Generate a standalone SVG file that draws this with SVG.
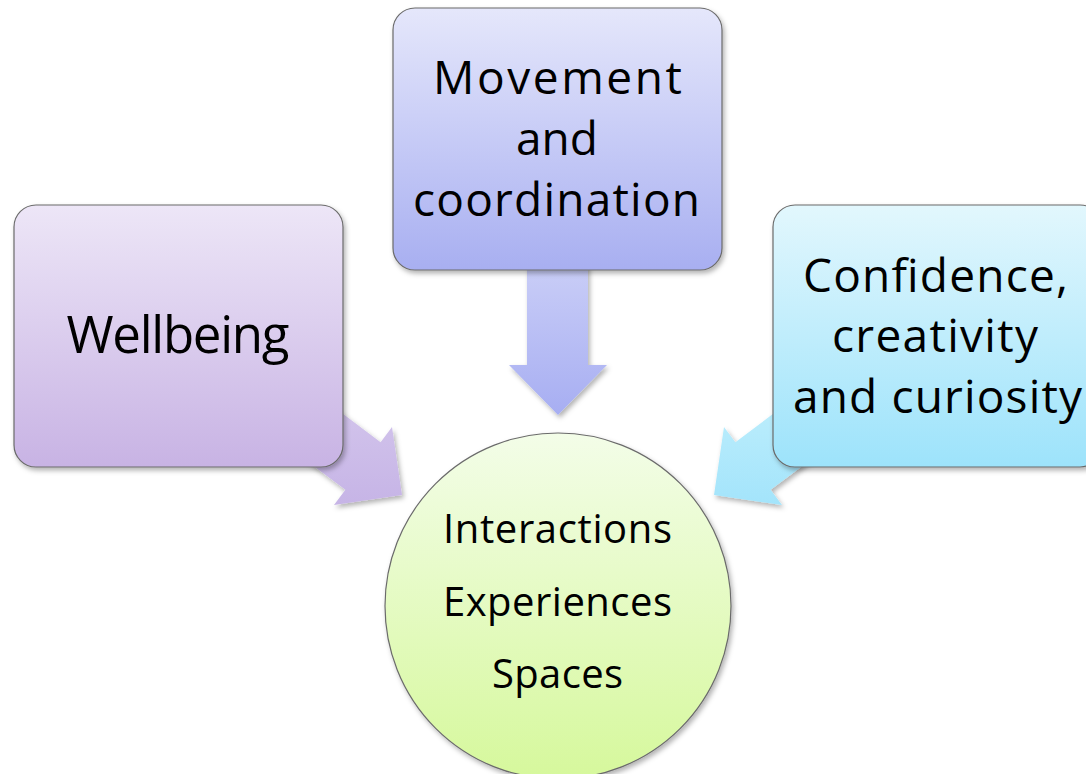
<svg xmlns="http://www.w3.org/2000/svg" width="1086" height="774" viewBox="0 0 1086 774">
<defs>
<linearGradient id="gTop" x1="0" y1="0" x2="0" y2="1"><stop offset="0" stop-color="#e5e7fb"/><stop offset="1" stop-color="#a8aff1"/></linearGradient>
<linearGradient id="gLeft" x1="0" y1="0" x2="0" y2="1"><stop offset="0" stop-color="#ede6f7"/><stop offset="1" stop-color="#c8b3e4"/></linearGradient>
<linearGradient id="gRight" x1="0" y1="0" x2="0" y2="1"><stop offset="0" stop-color="#e2f7fd"/><stop offset="1" stop-color="#9de3fb"/></linearGradient>
<linearGradient id="gCircle" x1="0" y1="0" x2="0" y2="1"><stop offset="0" stop-color="#f3fde8"/><stop offset="1" stop-color="#d6f89c"/></linearGradient>
<linearGradient id="gArrTop" x1="0" y1="0" x2="0" y2="1"><stop offset="0" stop-color="#cacef7"/><stop offset="1" stop-color="#a7aef2"/></linearGradient>
<linearGradient id="gArrLeft" gradientUnits="userSpaceOnUse" x1="0" y1="400" x2="0" y2="506"><stop offset="0" stop-color="#d3c5ec"/><stop offset="1" stop-color="#c6b4e6"/></linearGradient>
<linearGradient id="gArrRight" gradientUnits="userSpaceOnUse" x1="0" y1="420" x2="0" y2="506"><stop offset="0" stop-color="#b8ecfc"/><stop offset="1" stop-color="#a3e4fb"/></linearGradient>
<filter id="sh" x="-10%" y="-10%" width="125%" height="125%"><feDropShadow dx="2" dy="3" stdDeviation="2.5" flood-color="#000" flood-opacity="0.3"/></filter>
</defs>
<style>
.box{stroke:#6b6b6b;stroke-width:1.2;filter:url(#sh)}
.arr{filter:url(#sh)}
.t{font-family:"Open Sans","Liberation Sans",sans-serif;fill:#000;text-anchor:middle}
</style>
<rect width="1086" height="774" fill="#fff"/>
<g id="connectors">
<polygon class="arr" fill="url(#gArrTop)" points="527,262 588,262 588,365 607,365 558,415 509,365 527,365"/>
<polygon class="arr" fill="url(#gArrLeft)" points="261,352 380.6,442.3 392,427 402,495 334,505 345.4,489.7 225,400"/>
<polygon class="arr" fill="url(#gArrRight)" points="855,352 735.4,442.3 724,427 714,495 782,505 770.6,489.7 891,400"/>
</g>
<g id="node-wellbeing">
<rect class="box" x="14" y="205" width="329" height="262" rx="22" fill="url(#gLeft)"/>
<text class="t" x="178" y="353" font-size="51" textLength="223">Wellbeing</text>
</g>
<g id="node-movement">
<rect class="box" x="393" y="8" width="329" height="262" rx="22" fill="url(#gTop)"/>
<text class="t" x="557.5" y="94" font-size="46" textLength="249">Movement</text>
<text class="t" x="557" y="155" font-size="46" textLength="82">and</text>
<text class="t" x="556.5" y="216" font-size="46" textLength="287">coordination</text>
</g>
<g id="node-confidence">
<rect class="box" x="773" y="205" width="329" height="262" rx="22" fill="url(#gRight)"/>
<text class="t" x="935.5" y="292" font-size="46" textLength="265">Confidence,</text>
<text class="t" x="935" y="352" font-size="46" textLength="206">creativity</text>
<text class="t" x="937.5" y="413" font-size="46" textLength="289">and curiosity</text>
</g>
<g id="node-center">
<circle class="box" cx="558" cy="606" r="173" fill="url(#gCircle)"/>
<text class="t" x="557.5" y="543" font-size="40" textLength="229">Interactions</text>
<text class="t" x="557.5" y="616" font-size="40" textLength="229">Experiences</text>
<text class="t" x="557.5" y="688" font-size="40" textLength="131">Spaces</text>
</g>
</svg>
